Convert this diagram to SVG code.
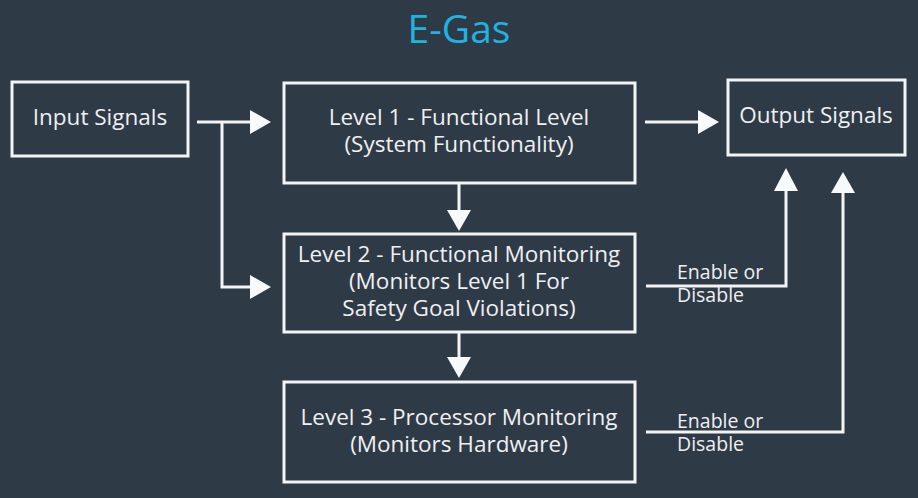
<svg xmlns="http://www.w3.org/2000/svg" width="918" height="498" viewBox="0 0 918 498">
<style>
.box{fill:none;stroke:#f2f4f5;stroke-width:3}
.t{font-family:"Open Sans","Liberation Sans",sans-serif;font-size:22.5px;fill:#eef0f2;text-anchor:middle}
.s{font-family:"Open Sans","Liberation Sans",sans-serif;font-size:19.5px;fill:#eef0f2}
.ln{fill:none;stroke:#f2f4f5;stroke-width:3}
.hd{fill:#f8f9fa}
</style>
<rect width="918" height="498" fill="#2f3a47"/>
<text x="459" y="43" font-family="'Open Sans','Liberation Sans',sans-serif" font-size="39" fill="#1fb3e0" text-anchor="middle">E-Gas</text>
<g id="input">
<rect class="box" x="12" y="82" width="176" height="74"/>
<text class="t" x="100" y="125">Input Signals</text>
</g>
<g id="level1">
<rect class="box" x="284" y="83" width="351" height="100"/>
<text class="t" x="459" y="125">Level 1 - Functional Level</text>
<text class="t" x="459" y="152">(System Functionality)</text>
</g>
<g id="level2">
<rect class="box" x="284" y="234" width="351" height="98"/>
<text class="t" x="459" y="262">Level 2 - Functional Monitoring</text>
<text class="t" x="459" y="289">(Monitors Level 1 For</text>
<text class="t" x="459" y="316">Safety Goal Violations)</text>
</g>
<g id="level3">
<rect class="box" x="284" y="382" width="351" height="100"/>
<text class="t" x="459" y="425">Level 3 - Processor Monitoring</text>
<text class="t" x="459" y="452">(Monitors Hardware)</text>
</g>
<g id="output">
<rect class="box" x="728" y="80" width="177" height="75"/>
<text class="t" x="816" y="123">Output Signals</text>
</g>
<g id="connectors">
<path class="ln" d="M197 122H252"/>
<polygon class="hd" points="250,110 271,122 250,134"/>
<path class="ln" d="M222 122V287H252"/>
<polygon class="hd" points="250,275 271,287 250,299"/>
<path class="ln" d="M645 122H700"/>
<polygon class="hd" points="698,110 719,122 698,134"/>
<path class="ln" d="M459 183V212"/>
<polygon class="hd" points="447,210 459,231 471,210"/>
<path class="ln" d="M459 332V359"/>
<polygon class="hd" points="447,357 459,378 471,357"/>
<path class="ln" d="M646 286H786V189"/>
<polygon class="hd" points="774,191 786,168 798,191"/>
<path class="ln" d="M646 432H843V191"/>
<polygon class="hd" points="831,193 843,172 855,193"/>
<text class="s" x="677" y="279">Enable or</text>
<text class="s" x="677" y="302">Disable</text>
<text class="s" x="677" y="428">Enable or</text>
<text class="s" x="677" y="451">Disable</text>
</g>
</svg>
